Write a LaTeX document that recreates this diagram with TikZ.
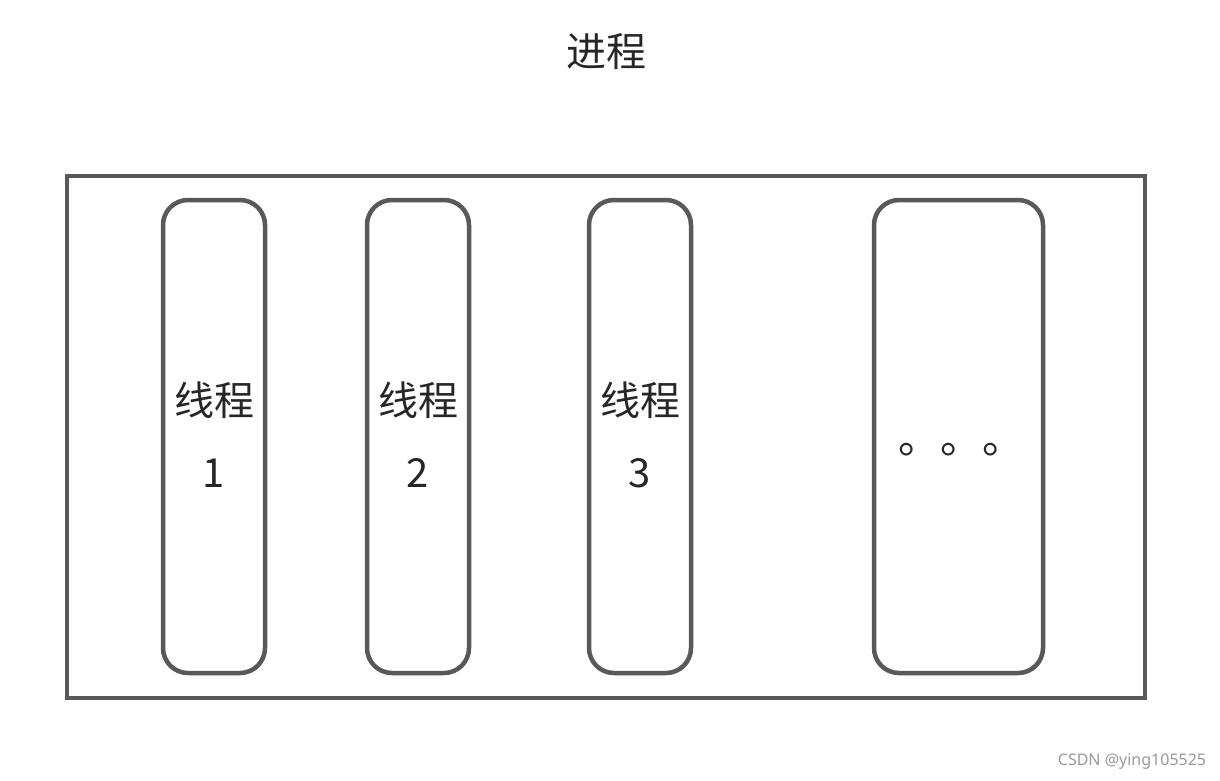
\documentclass[tikz,border=0pt]{standalone}
\usepackage{fontspec}
\setmainfont{Noto Sans}
\newfontfamily\cjk{Noto Sans CJK SC}
\usetikzlibrary{positioning}
\definecolor{edge}{HTML}{595959}
\definecolor{ink}{HTML}{262626}

\begin{document}
\begin{tikzpicture}[x=1pt,y=-1pt,
	thread/.style={draw=edge, line width=4.5pt, rounded corners=25pt, minimum width=102pt, minimum height=473pt, inner sep=0pt},
	big/.style={text=ink, font=\cjk\fontsize{40}{48}\selectfont, inner sep=0pt}]
	\useasboundingbox (0,0) rectangle (1220,780);
	\node[big] (title) at (606,52) {进程};
	\node[draw=edge, line width=4.5pt, minimum width=1078pt, minimum height=522pt, inner sep=0pt] (proc) at (606,437) {};
	\foreach \n/\x in {1/214,2/418,3/640} {
		\node[thread] (t\n) at (\x,436.5) {};
		\node[big] (w\n) at (\x,400) {线程};
		\node[big] (d\n) at (\x,473) {\n};
	}
	\node[thread, minimum width=169pt] (t4) at (958.5,436.5) {};
	\node[big, font=\cjk\fontsize{42}{48}\selectfont] (more) at (961,450) {。。。};
	\node[text=gray!80, font=\fontsize{16}{18}\selectfont, inner sep=0pt] (mark) at (1132,762) {CSDN @ying105525};
\end{tikzpicture}
\end{document}
